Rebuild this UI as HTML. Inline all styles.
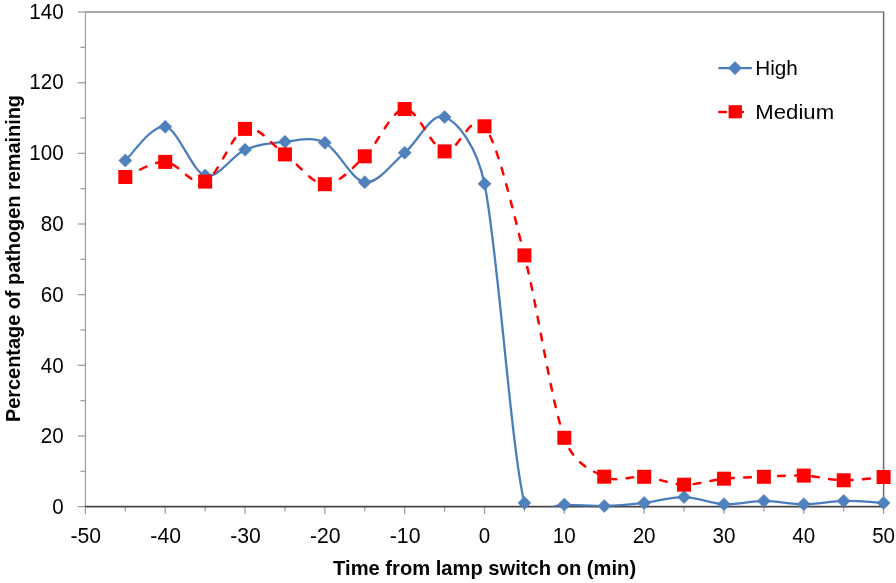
<!DOCTYPE html>
<html><head><meta charset="utf-8"><title>Chart</title>
<style>html,body{margin:0;padding:0;background:#fff;width:896px;height:583px;overflow:hidden}svg{display:block;will-change:transform}text{font-family:"Liberation Sans",sans-serif;fill:#000}</style></head><body>
<svg width="896" height="583" viewBox="0 0 896 583">
<defs><clipPath id="pa"><rect x="85.40" y="10.06" width="798.20" height="496.54"/></clipPath></defs>
<rect width="896" height="583" fill="#fff"/>
<g stroke="#9A9A9A" stroke-width="1.2"><line x1="77.90" y1="506.60" x2="85.40" y2="506.60"/><line x1="80.40" y1="471.28" x2="85.40" y2="471.28"/><line x1="77.90" y1="435.95" x2="85.40" y2="435.95"/><line x1="80.40" y1="400.63" x2="85.40" y2="400.63"/><line x1="77.90" y1="365.30" x2="85.40" y2="365.30"/><line x1="80.40" y1="329.98" x2="85.40" y2="329.98"/><line x1="77.90" y1="294.66" x2="85.40" y2="294.66"/><line x1="80.40" y1="259.33" x2="85.40" y2="259.33"/><line x1="77.90" y1="224.01" x2="85.40" y2="224.01"/><line x1="80.40" y1="188.68" x2="85.40" y2="188.68"/><line x1="77.90" y1="153.36" x2="85.40" y2="153.36"/><line x1="80.40" y1="118.04" x2="85.40" y2="118.04"/><line x1="77.90" y1="82.71" x2="85.40" y2="82.71"/><line x1="80.40" y1="47.39" x2="85.40" y2="47.39"/><line x1="77.90" y1="12.06" x2="85.40" y2="12.06"/></g>
<g stroke="#9A9A9A" stroke-width="1.2"><line x1="85.40" y1="506.60" x2="85.40" y2="513.90"/><line x1="125.31" y1="506.60" x2="125.31" y2="511.60"/><line x1="165.22" y1="506.60" x2="165.22" y2="513.90"/><line x1="205.13" y1="506.60" x2="205.13" y2="511.60"/><line x1="245.04" y1="506.60" x2="245.04" y2="513.90"/><line x1="284.95" y1="506.60" x2="284.95" y2="511.60"/><line x1="324.86" y1="506.60" x2="324.86" y2="513.90"/><line x1="364.77" y1="506.60" x2="364.77" y2="511.60"/><line x1="404.68" y1="506.60" x2="404.68" y2="513.90"/><line x1="444.59" y1="506.60" x2="444.59" y2="511.60"/><line x1="484.50" y1="506.60" x2="484.50" y2="513.90"/><line x1="524.41" y1="506.60" x2="524.41" y2="511.60"/><line x1="564.32" y1="506.60" x2="564.32" y2="513.90"/><line x1="604.23" y1="506.60" x2="604.23" y2="511.60"/><line x1="644.14" y1="506.60" x2="644.14" y2="513.90"/><line x1="684.05" y1="506.60" x2="684.05" y2="511.60"/><line x1="723.96" y1="506.60" x2="723.96" y2="513.90"/><line x1="763.87" y1="506.60" x2="763.87" y2="511.60"/><line x1="803.78" y1="506.60" x2="803.78" y2="513.90"/><line x1="843.69" y1="506.60" x2="843.69" y2="511.60"/><line x1="883.60" y1="506.60" x2="883.60" y2="513.90"/></g>
<line x1="85.40" y1="12.06" x2="884.10" y2="12.06" stroke="#8A8A8A" stroke-width="1.6"/>
<line x1="883.60" y1="12.06" x2="883.60" y2="506.60" stroke="#6A6A6A" stroke-width="1.5"/>
<line x1="85.40" y1="12.06" x2="85.40" y2="506.60" stroke="#A0A0A0" stroke-width="1.3"/>
<line x1="85.40" y1="506.60" x2="883.60" y2="506.60" stroke="#454545" stroke-width="1.8"/>
<g clip-path="url(#pa)" fill="none">
<path d="M125.31,160.50 C131.96,154.87 151.92,124.20 165.22,126.70 C178.52,129.20 191.83,171.65 205.13,175.50 C218.43,179.35 231.74,155.42 245.04,149.80 C258.34,144.18 271.65,142.97 284.95,141.80 C298.25,140.63 311.56,136.07 324.86,142.80 C338.16,149.53 351.47,180.53 364.77,182.20 C378.07,183.87 391.38,163.67 404.68,152.80 C417.98,141.93 431.29,111.83 444.59,117.00 C457.89,122.17 476.62,145.70 484.50,183.80 C497.80,248.12 511.11,449.43 524.41,502.90 C529.23,522.28 551.02,504.08 564.32,504.60 C577.62,505.12 590.93,506.28 604.23,506.00 C617.53,505.72 630.84,504.38 644.14,502.90 C657.44,501.42 670.75,496.88 684.05,497.10 C697.35,497.32 710.66,503.57 723.96,504.20 C737.26,504.83 750.57,500.90 763.87,500.90 C777.17,500.90 790.48,504.20 803.78,504.20 C817.08,504.20 830.39,501.12 843.69,500.90 C856.99,500.68 876.95,502.57 883.60,502.90" stroke="#4A7EBB" stroke-width="2.30" stroke-linejoin="round"/>
<path d="M125.31,177.00 C131.96,174.48 151.92,161.13 165.22,161.90 C178.52,162.67 191.83,187.10 205.13,181.60 C218.43,176.10 231.74,133.43 245.04,128.90 C258.34,124.37 271.65,145.18 284.95,154.40 C298.25,163.62 311.56,183.88 324.86,184.20 C338.16,184.52 351.47,168.83 364.77,156.30 C378.07,143.77 391.38,109.82 404.68,109.00 C417.98,108.18 431.29,148.52 444.59,151.40 C457.89,154.28 471.20,108.97 484.50,126.30 C497.80,143.63 511.11,203.48 524.41,255.40 C537.71,307.32 551.02,400.92 564.32,437.80 C573.77,464.01 590.93,470.20 604.23,476.70 C617.53,483.20 630.84,475.47 644.14,476.80 C657.44,478.13 670.75,484.38 684.05,484.70 C697.35,485.02 710.66,480.02 723.96,478.70 C737.26,477.38 750.57,477.32 763.87,476.80 C777.17,476.28 790.48,475.02 803.78,475.60 C817.08,476.18 830.39,480.07 843.69,480.30 C856.99,480.53 876.95,477.55 883.60,477.00" stroke="#FF0000" stroke-width="2.50" stroke-linecap="round" stroke-dasharray="6.70 10.32" stroke-dashoffset="0.27"/>
</g>
<g fill="#4F81BD" stroke="#4A7EBB" stroke-width="0.6"><path d="M125.31,154.00 L131.81,160.50 L125.31,167.00 L118.81,160.50 Z"/><path d="M165.22,120.20 L171.72,126.70 L165.22,133.20 L158.72,126.70 Z"/><path d="M205.13,169.00 L211.63,175.50 L205.13,182.00 L198.63,175.50 Z"/><path d="M245.04,143.30 L251.54,149.80 L245.04,156.30 L238.54,149.80 Z"/><path d="M284.95,135.30 L291.45,141.80 L284.95,148.30 L278.45,141.80 Z"/><path d="M324.86,136.30 L331.36,142.80 L324.86,149.30 L318.36,142.80 Z"/><path d="M364.77,175.70 L371.27,182.20 L364.77,188.70 L358.27,182.20 Z"/><path d="M404.68,146.30 L411.18,152.80 L404.68,159.30 L398.18,152.80 Z"/><path d="M444.59,110.50 L451.09,117.00 L444.59,123.50 L438.09,117.00 Z"/><path d="M484.50,177.30 L491.00,183.80 L484.50,190.30 L478.00,183.80 Z"/><path d="M524.41,496.40 L530.91,502.90 L524.41,509.40 L517.91,502.90 Z"/><path d="M564.32,498.10 L570.82,504.60 L564.32,511.10 L557.82,504.60 Z"/><path d="M604.23,499.50 L610.73,506.00 L604.23,512.50 L597.73,506.00 Z"/><path d="M644.14,496.40 L650.64,502.90 L644.14,509.40 L637.64,502.90 Z"/><path d="M684.05,490.60 L690.55,497.10 L684.05,503.60 L677.55,497.10 Z"/><path d="M723.96,497.70 L730.46,504.20 L723.96,510.70 L717.46,504.20 Z"/><path d="M763.87,494.40 L770.37,500.90 L763.87,507.40 L757.37,500.90 Z"/><path d="M803.78,497.70 L810.28,504.20 L803.78,510.70 L797.28,504.20 Z"/><path d="M843.69,494.40 L850.19,500.90 L843.69,507.40 L837.19,500.90 Z"/><path d="M883.60,496.40 L890.10,502.90 L883.60,509.40 L877.10,502.90 Z"/></g>
<g fill="#FF0000"><rect x="118.31" y="170.00" width="14.00" height="14.00"/><rect x="158.22" y="154.90" width="14.00" height="14.00"/><rect x="198.13" y="174.60" width="14.00" height="14.00"/><rect x="238.04" y="121.90" width="14.00" height="14.00"/><rect x="277.95" y="147.40" width="14.00" height="14.00"/><rect x="317.86" y="177.20" width="14.00" height="14.00"/><rect x="357.77" y="149.30" width="14.00" height="14.00"/><rect x="397.68" y="102.00" width="14.00" height="14.00"/><rect x="437.59" y="144.40" width="14.00" height="14.00"/><rect x="477.50" y="119.30" width="14.00" height="14.00"/><rect x="517.41" y="248.40" width="14.00" height="14.00"/><rect x="557.32" y="430.80" width="14.00" height="14.00"/><rect x="597.23" y="469.70" width="14.00" height="14.00"/><rect x="637.14" y="469.80" width="14.00" height="14.00"/><rect x="677.05" y="477.70" width="14.00" height="14.00"/><rect x="716.96" y="471.70" width="14.00" height="14.00"/><rect x="756.87" y="469.80" width="14.00" height="14.00"/><rect x="796.78" y="468.60" width="14.00" height="14.00"/><rect x="836.69" y="473.30" width="14.00" height="14.00"/><rect x="876.60" y="470.00" width="14.00" height="14.00"/></g>
<g font-size="21.30"><text x="63.6" y="514.00" text-anchor="end" textLength="11.45" lengthAdjust="spacingAndGlyphs">0</text><text x="63.6" y="443.00" text-anchor="end" textLength="22.91" lengthAdjust="spacingAndGlyphs">20</text><text x="63.6" y="373.00" text-anchor="end" textLength="22.91" lengthAdjust="spacingAndGlyphs">40</text><text x="63.6" y="302.00" text-anchor="end" textLength="22.91" lengthAdjust="spacingAndGlyphs">60</text><text x="63.6" y="231.00" text-anchor="end" textLength="22.91" lengthAdjust="spacingAndGlyphs">80</text><text x="63.6" y="160.00" text-anchor="end" textLength="34.36" lengthAdjust="spacingAndGlyphs">100</text><text x="63.6" y="89.00" text-anchor="end" textLength="34.36" lengthAdjust="spacingAndGlyphs">120</text><text x="63.6" y="19.00" text-anchor="end" textLength="34.36" lengthAdjust="spacingAndGlyphs">140</text></g>
<g font-size="21.30"><text x="85.85" y="543.20" text-anchor="middle" textLength="30.67" lengthAdjust="spacingAndGlyphs">-50</text><text x="165.67" y="543.20" text-anchor="middle" textLength="30.67" lengthAdjust="spacingAndGlyphs">-40</text><text x="245.49" y="543.20" text-anchor="middle" textLength="30.67" lengthAdjust="spacingAndGlyphs">-30</text><text x="325.31" y="543.20" text-anchor="middle" textLength="30.67" lengthAdjust="spacingAndGlyphs">-20</text><text x="405.13" y="543.20" text-anchor="middle" textLength="30.67" lengthAdjust="spacingAndGlyphs">-10</text><text x="484.50" y="543.20" text-anchor="middle" textLength="11.45" lengthAdjust="spacingAndGlyphs">0</text><text x="564.32" y="543.20" text-anchor="middle" textLength="22.91" lengthAdjust="spacingAndGlyphs">10</text><text x="644.14" y="543.20" text-anchor="middle" textLength="22.91" lengthAdjust="spacingAndGlyphs">20</text><text x="723.96" y="543.20" text-anchor="middle" textLength="22.91" lengthAdjust="spacingAndGlyphs">30</text><text x="803.78" y="543.20" text-anchor="middle" textLength="22.91" lengthAdjust="spacingAndGlyphs">40</text><text x="883.60" y="543.20" text-anchor="middle" textLength="22.91" lengthAdjust="spacingAndGlyphs">50</text></g>
<text x="484.60" y="575.0" text-anchor="middle" font-weight="bold" font-size="19.80" textLength="303.00" lengthAdjust="spacingAndGlyphs">Time from lamp switch on (min)</text>
<text transform="translate(19.60,258.50) rotate(-90)" x="0" y="0" text-anchor="middle" font-weight="bold" font-size="19.80" textLength="327.00" lengthAdjust="spacingAndGlyphs">Percentage of pathogen remaining</text>
<line x1="718.4" y1="68.1" x2="751.8" y2="68.1" stroke="#4A7EBB" stroke-width="2.30"/>
<path d="M735,61.5 L741.6,68.1 L735,74.7 L728.4,68.1 Z" fill="#4F81BD" stroke="#4A7EBB" stroke-width="0.6"/>
<line x1="719.2" y1="112" x2="750.5" y2="112" stroke="#FF0000" stroke-width="2.50" stroke-linecap="round" stroke-dasharray="6.70 10.32"/>
<rect x="728.6" y="105.2" width="13.3" height="13.1" fill="#FF0000"/>
<text x="755.20" y="75.3" font-size="21" textLength="42.60" lengthAdjust="spacingAndGlyphs">High</text>
<text x="755.30" y="118.9" font-size="21" textLength="78.80" lengthAdjust="spacingAndGlyphs">Medium</text>
</svg></body></html>
